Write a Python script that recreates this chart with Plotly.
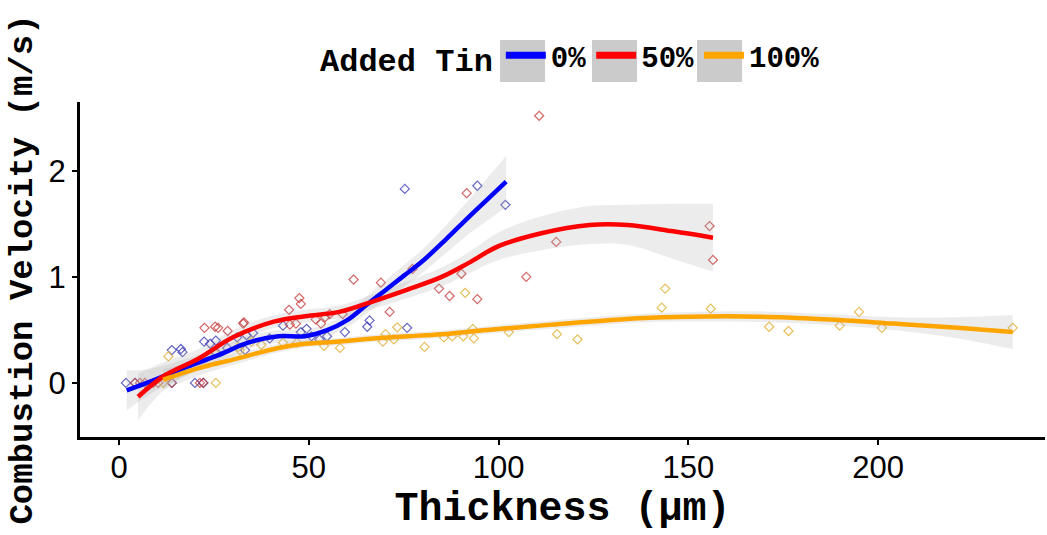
import plotly.graph_objects as go

# ---------------- data ----------------
groups = ["0%", "50%", "100%"]
colors = ["#0000FF", "#FF0000", "#FFA500"]
point_colors = ["rgba(50,50,175,0.75)", "rgba(195,50,50,0.75)", "rgba(225,175,50,0.8)"]

blue_x = [1.8, 4.2, 13.9, 20, 22.2, 13.9, 16.3, 16.7, 22.4, 24, 25.5, 25.5, 28.5, 31.1, 33.2,
          33.6, 35.3, 39.7, 43.2, 47.9, 49.4, 50.7, 52.8, 54.8, 59.5, 65.4, 66, 75.3, 75.9,
          94.4, 101.8]
blue_y = [0, 0, 0, 0, 0, 0.31, 0.32, 0.29, 0.39, 0.37, 0.40, 0.29, 0.33, 0.43, 0.31,
          0.45, 0.47, 0.42, 0.54, 0.48, 0.51, 0.44, 0.41, 0.44, 0.48, 0.53, 0.59, 1.83, 0.52,
          1.86, 1.68]

red_x = [4.2, 5.5, 6.8, 9, 10.3, 13.9, 21.3, 22.2, 22.5, 25.3, 26.1, 28.6, 32.7, 32.9, 44.8,
         45, 46.6, 47.5, 47.9, 51.8, 53.2, 54.3, 55.5, 58.9, 61.8, 69, 71.3, 77.3, 84.3, 87.1,
         90.2, 91.6, 94.4, 107.3, 110.7, 115.2, 155.6, 156.5]
red_y = [0, 0, 0, 0, 0, 0, 0, 0, 0.52, 0.53, 0.52, 0.49, 0.56, 0.57, 0.69,
         0.55, 0.56, 0.80, 0.745, 0.60, 0.56, 0.62, 0.65, 0.65, 0.975, 0.946, 0.67, 1.075, 0.89, 0.82,
         1.03, 1.79, 0.79, 1.0, 2.52, 1.33, 1.48, 1.16]

orange_x = [11.6, 25.5, 13, 25.3, 31.4, 31.8, 34.9, 37.5, 43.2, 46.9, 54, 58.2, 69.5, 70.2,
            72.4, 73.3, 80.5, 85.6, 87.8, 90.7, 91.2, 93.2, 93.5, 102.7, 115.4, 120.8, 143,
            143.9, 155.9, 171.3, 176.4, 189.9, 195, 201, 235.5]
orange_y = [0, 0, 0.25, 0.28, 0.34, 0.31, 0.39, 0.36, 0.38, 0.38, 0.35, 0.33, 0.39, 0.46,
            0.41, 0.525, 0.34, 0.43, 0.44, 0.44, 0.85, 0.51, 0.42, 0.48, 0.46, 0.41, 0.71,
            0.89, 0.70, 0.53, 0.49, 0.54, 0.67, 0.52, 0.52]

# smoothed fits (centre line and half-width of the grey confidence band)
blue_fx = [2, 8, 17, 26, 34, 42, 49, 55, 60, 65, 70, 75, 80, 86, 92, 97, 102]
blue_fy = [-0.07, 0.01, 0.14, 0.26, 0.38, 0.44, 0.44, 0.50, 0.59, 0.73, 0.87, 1.01, 1.15, 1.35, 1.56, 1.73, 1.90]
blue_se = [0.19, 0.12, 0.08, 0.07, 0.06, 0.06, 0.06, 0.06, 0.07, 0.08, 0.09, 0.10, 0.11, 0.13, 0.16, 0.20, 0.24]

red_fx = [5, 12, 21, 30, 41, 49, 58, 67, 76, 85, 92, 100, 111, 124, 134, 146, 156.5]
red_fy = [-0.13, 0.07, 0.23, 0.43, 0.58, 0.63, 0.67, 0.77, 0.88, 1.0, 1.13, 1.29, 1.41, 1.49, 1.49, 1.43, 1.37]
red_se = [0.22, 0.13, 0.09, 0.07, 0.06, 0.06, 0.06, 0.07, 0.08, 0.09, 0.10, 0.13, 0.16, 0.18, 0.19, 0.26, 0.32]

orange_fx = [11.6, 21, 30, 42, 49, 58, 67, 76, 85, 97, 114, 137, 150, 169, 186, 204, 221, 235.5]
orange_fy = [0.03, 0.14, 0.22, 0.33, 0.37, 0.39, 0.42, 0.44, 0.46, 0.50, 0.55, 0.61, 0.625, 0.625, 0.60, 0.56, 0.52, 0.48]
orange_se = [0.10, 0.07, 0.05, 0.04, 0.035, 0.035, 0.035, 0.035, 0.035, 0.035, 0.04, 0.04, 0.045, 0.05, 0.05, 0.06, 0.10, 0.16]

x_ticks = [0, 50, 100, 150, 200]
y_ticks = [0, 1, 2]

points = [(blue_x, blue_y), (red_x, red_y), (orange_x, orange_y)]
fits = [(blue_fx, blue_fy, blue_se), (red_fx, red_fy, red_se), (orange_fx, orange_fy, orange_se)]

MONO = "Liberation Mono"

fig = go.Figure()

# points
for (px, py), pc, g in zip(points, point_colors, groups):
    fig.add_trace(go.Scatter(x=px, y=py, mode="markers", showlegend=False, legendgroup=g,
                             marker=dict(symbol="diamond-open", size=7, color=pc,
                                         line=dict(width=1.2, color=pc)),
                             hoverinfo="x+y"))

# confidence bands
for (fx, fy, se), g in zip(fits, groups):
    lo = [a - b for a, b in zip(fy, se)]
    hi = [a + b for a, b in zip(fy, se)]
    fig.add_trace(go.Scatter(x=fx, y=lo, mode="lines", line=dict(width=0, shape="spline"),
                             showlegend=False, legendgroup=g, hoverinfo="skip"))
    fig.add_trace(go.Scatter(x=fx, y=hi, mode="lines", line=dict(width=0, shape="spline"),
                             fill="tonexty", fillcolor="rgba(175,175,175,0.24)",
                             showlegend=False, legendgroup=g, hoverinfo="skip"))

# fitted lines
for (fx, fy, se), c, g in zip(fits, colors, groups):
    fig.add_trace(go.Scatter(x=fx, y=fy, mode="lines", name=g, legendgroup=g, showlegend=False,
                             line=dict(color=c, width=4.5, shape="spline")))

# legend entries (thicker key lines, like the reference)
for c, g in zip(colors, groups):
    fig.add_trace(go.Scatter(x=[None], y=[None], mode="lines", name=g, legendgroup=g,
                             showlegend=True, line=dict(color=c, width=7)))

# grey key backgrounds behind the legend symbols
key_left = [500, 592, 697]   # pixel positions of key boxes
for kl in key_left:
    fig.add_shape(type="rect", xref="paper", yref="paper",
                  x0=(kl - 80) / 965, x1=(kl + 45 - 80) / 965,
                  y0=(437 - 82) / 335, y1=(437 - 40) / 335,
                  fillcolor="#CBCBCB", line=dict(width=0), layer="below")

fig.update_layout(
    width=1047, height=535,
    margin=dict(l=80, r=2, t=102, b=98),
    paper_bgcolor="white", plot_bgcolor="white",
    showlegend=True,
    legend=dict(orientation="h", x=(318 - 80) / 965, xanchor="left", y=1.06, yanchor="bottom",
                font=dict(family=MONO, size=29, color="black", weight="bold"),
                title=dict(text="Added Tin", side="left",
                           font=dict(family=MONO, size=32, color="black", weight="bold")),
                itemwidth=40, tracegroupgap=0, bgcolor="rgba(0,0,0,0)"),
    xaxis=dict(range=[-10.3, 244], tickvals=x_ticks, ticktext=[str(v) for v in x_ticks],
               showgrid=False, zeroline=False, showline=True, linecolor="black", linewidth=3,
               ticks="outside", ticklen=5, tickwidth=1.5, tickcolor="black",
               ticklabelstandoff=-4,
               tickfont=dict(family="Liberation Sans", size=31, color="black"),
               title=dict(text="Thickness (μm)", standoff=8,
                          font=dict(family=MONO, size=40, color="black", weight="bold"))),
    yaxis=dict(range=[-0.51, 2.65], tickvals=y_ticks, ticktext=[str(v) for v in y_ticks],
               showgrid=False, zeroline=False, showline=True, linecolor="black", linewidth=3,
               ticks="outside", ticklen=5, tickwidth=1.5, tickcolor="black",
               tickfont=dict(family="Liberation Sans", size=31, color="black"),
               title=dict(text="Combustion Velocity (m/s)", standoff=6,
                          font=dict(family=MONO, size=34, color="black", weight="bold"))),
)

fig.write_html("out.html")
